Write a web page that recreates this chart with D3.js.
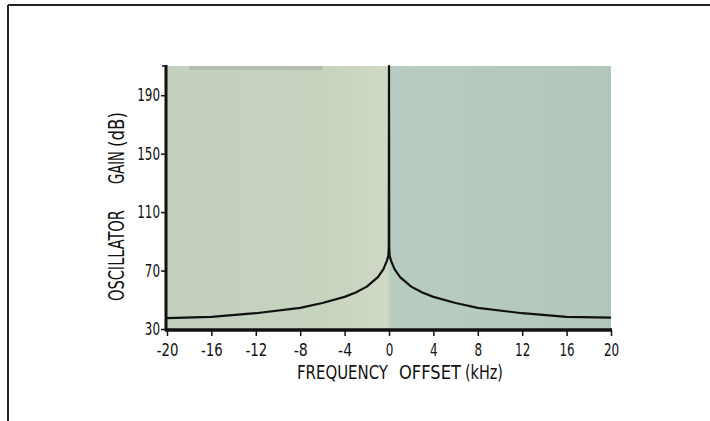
<!DOCTYPE html>
<html>
<head>
<meta charset="utf-8">
<script src="https://cdn.jsdelivr.net/npm/d3@7"></script>
<style>
  body { margin: 0; background: #fff; }
  svg { display: block; }
  .tick text { font-family: "DejaVu Sans Condensed", "DejaVu Sans", sans-serif; font-size: 17px; fill: #111; }
  .lbl { font-family: "DejaVu Sans Condensed", "DejaVu Sans", sans-serif; fill: #111; }
</style>
</head>
<body>
<div id="chart"></div>
<script>
// frequency offset (kHz) and oscillator gain (dB)
var offsets = [-20, -16, -12, -8, -6, -4, -3, -2, -1, -0.5, -0.2, -0.06, -0.02, 0,
               0.02, 0.06, 0.2, 0.5, 1, 2, 3, 4, 6, 8, 12, 16, 20];
var gain = [37.5, 38.3, 40.8, 44.5, 47.8, 52, 55, 59, 65.5, 71, 76.5, 80, 86, 210,
            86, 80, 76.5, 71, 65.5, 59, 55, 52, 47.8, 44.5, 40.8, 38.3, 37.8];
var xTicks = [-20, -16, -12, -8, -4, 0, 4, 8, 12, 16, 20];
var yTicks = [30, 70, 110, 150, 190];
var xTitle = ["FREQUENCY", "OFFSET", "(kHz)"];
var yTitle = ["OSCILLATOR", "GAIN", "(dB)"];

var myApp = {};
myApp.w = 710;
myApp.h = 421;
myApp.plot = {left: 167, right: 611, top: 66, bottom: 329};
// where each title word sits along its axis (start, end)
myApp.xWords = [[297, 388], [399, 461], [465, 503]];
myApp.yWords = [[301, 210], [184, 151], [147, 112]];

// narrow lettering like the original: squeeze each label to its measured width
myApp.squeeze = function (sel) {
    sel.each(function () {
        var t = d3.select(this);
        var s = t.text();
        var w = 0;
        for (var i = 0; i < s.length; i++) w += (s[i] === "-") ? 6.5 : 7.6;
        t.attr("textLength", w).attr("lengthAdjust", "spacingAndGlyphs");
    });
};

// one word, squeezed horizontally with a transform so its box really fits
myApp.fitWord = function (svg, word, x, y, len, size, rot) {
    var t = svg.append("text").attr("class", "lbl")
        .attr("font-size", size)
        .text(word);
    var w = t.node().getComputedTextLength();
    t.attr("transform", "translate(" + x + "," + y + ") rotate(" + rot + ") scale(" + (len / w) + ",1)");
    return t;
};

myApp.run = function () {
    var svg = d3.select("#chart").append("svg")
        .attr("width", myApp.w)
        .attr("height", myApp.h);

    // page frame (top and left rules)
    svg.append("line").attr("x1", 8).attr("x2", 710).attr("y1", 5).attr("y2", 5)
        .attr("stroke", "#222").attr("stroke-width", 2);
    svg.append("line").attr("x1", 8).attr("x2", 8).attr("y1", 5).attr("y2", 421)
        .attr("stroke", "#222").attr("stroke-width", 2);

    var p = myApp.plot;
    var x = d3.scaleLinear().domain([-20, 20]).range([p.left, p.right]);
    var y = d3.scaleLinear().domain([30, 210]).range([p.bottom, p.top]);

    // tinted plot background
    var defs = svg.append("defs");
    var grad = defs.append("linearGradient").attr("id", "bg")
        .attr("x1", "0%").attr("x2", "100%").attr("y1", "0%").attr("y2", "0%");
    grad.append("stop").attr("offset", "0%").attr("stop-color", "#c2d0bd");
    grad.append("stop").attr("offset", "35%").attr("stop-color", "#c6d3bf");
    grad.append("stop").attr("offset", "49.5%").attr("stop-color", "#cfd9c5");
    grad.append("stop").attr("offset", "50.5%").attr("stop-color", "#b8ccc1");
    grad.append("stop").attr("offset", "100%").attr("stop-color", "#b2c6bb");

    svg.append("rect")
        .attr("x", x(-20)).attr("y", y(210))
        .attr("width", x(20) - x(-20)).attr("height", y(30) - y(210) + 2)
        .attr("fill", "url(#bg)");
    // darker smudge along the top-left
    svg.append("rect")
        .attr("x", x(-18)).attr("y", y(210))
        .attr("width", x(-6) - x(-18)).attr("height", 4)
        .attr("fill", "#9aa297").attr("opacity", 0.45);

    // curve
    var pts = offsets.map(function (d, i) { return [d, gain[i]]; });
    var line = d3.line()
        .x(function (d) { return x(d[0]); })
        .y(function (d) { return y(d[1]); })
        .curve(d3.curveLinear);
    svg.append("path")
        .datum(pts)
        .attr("d", line)
        .attr("fill", "none")
        .attr("stroke", "#111")
        .attr("stroke-width", 2.2)
        .attr("stroke-linejoin", "round");

    // axes
    var xAxis = d3.axisBottom(x).tickValues(xTicks)
        .tickFormat(function (d) { return String(d); })
        .tickSize(6).tickPadding(8);
    var yAxis = d3.axisLeft(y).tickValues(yTicks)
        .tickFormat(function (d) { return String(d); })
        .tickSize(5).tickPadding(1);

    var gx = svg.append("g").attr("transform", "translate(0," + (p.bottom + 1) + ")").call(xAxis);
    var gy = svg.append("g").attr("transform", "translate(" + (p.left - 1) + ",0)").call(yAxis);

    gx.select(".domain").remove();
    gy.select(".domain").remove();
    gx.selectAll(".tick line").attr("stroke", "#111").attr("stroke-width", 1.5);
    gy.selectAll(".tick line").attr("stroke", "#111").attr("stroke-width", 1.5);
    gx.selectAll(".tick text").call(myApp.squeeze);
    gy.selectAll(".tick text").call(myApp.squeeze);

    // heavy axis lines
    svg.append("line")
        .attr("x1", p.left - 2).attr("x2", p.right + 1)
        .attr("y1", p.bottom + 1).attr("y2", p.bottom + 1)
        .attr("stroke", "#111").attr("stroke-width", 3.5);
    svg.append("line")
        .attr("x1", p.left - 1).attr("x2", p.left - 1)
        .attr("y1", p.top - 1).attr("y2", p.bottom + 2)
        .attr("stroke", "#111").attr("stroke-width", 3);
    svg.append("line")
        .attr("x1", p.left - 5).attr("x2", p.left)
        .attr("y1", p.top).attr("y2", p.top)
        .attr("stroke", "#111").attr("stroke-width", 1.5);

    // axis titles, word by word
    xTitle.forEach(function (d, i) {
        var a = myApp.xWords[i];
        myApp.fitWord(svg, d, a[0], 379, a[1] - a[0], 20, 0);
    });
    yTitle.forEach(function (d, i) {
        var a = myApp.yWords[i];
        myApp.fitWord(svg, d, 124, a[0], a[0] - a[1], 22, -90);
    });
};

window.onload = myApp.run;
</script>
</body>
</html>
